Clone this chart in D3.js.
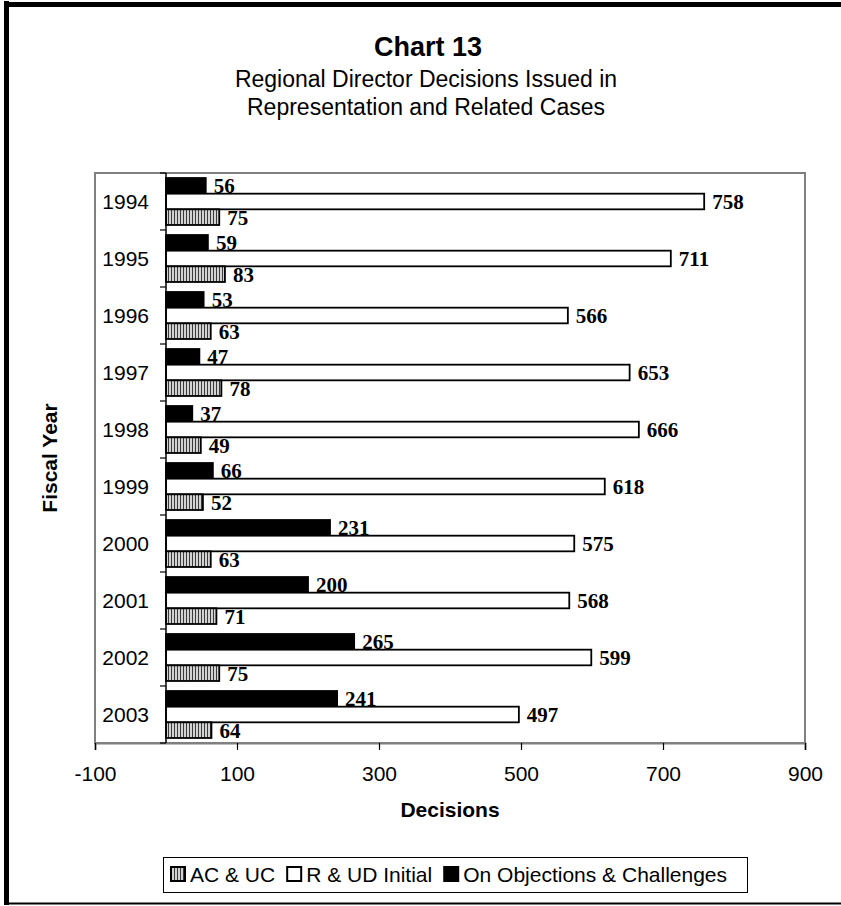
<!DOCTYPE html>
<html>
<head>
<meta charset="utf-8">
<script src="https://cdn.jsdelivr.net/npm/d3@7"></script>
<style>
  body { margin: 0; background: #fff; }
  svg { display: block; }
  .sans { font-family: Arial, "Liberation Sans", sans-serif; }
  .lbl { font-family: "Times New Roman", "Liberation Serif", serif; font-weight: bold; font-size: 21px; }
</style>
</head>
<body>
<script>
let svgWidth = 841
let svgHeight = 906

// data
let years = ["1994", "1995", "1996", "1997", "1998", "1999", "2000", "2001", "2002", "2003"]
let objections = [56, 59, 53, 47, 37, 66, 231, 200, 265, 241]
let initial = [758, 711, 566, 653, 666, 618, 575, 568, 599, 497]
let acuc = [75, 83, 63, 78, 49, 52, 63, 71, 75, 64]
let xTicks = [-100, 100, 300, 500, 700, 900]
let seriesNames = ["AC & UC", "R & UD Initial", "On Objections & Challenges"]

let plot = { left: 95, right: 805, top: 173, bottom: 743 }

let svg = d3.select("body")
    .append("svg")
    .attr("width", svgWidth)
    .attr("height", svgHeight)

// hatch pattern for AC & UC
let defs = svg.append("defs")
let pat = defs.append("pattern")
    .attr("id", "hatch")
    .attr("patternUnits", "userSpaceOnUse")
    .attr("width", 3)
    .attr("height", 4)
pat.append("rect").attr("width", 3).attr("height", 4).attr("fill", "#d2d2d2")
pat.append("rect").attr("width", 1).attr("height", 4).attr("fill", "#3a3a3a")

let fills = { "AC & UC": "url(#hatch)", "R & UD Initial": "#fff", "On Objections & Challenges": "#000" }

// outer frame
svg.append("line").attr("x1", 6.5).attr("x2", 6.5).attr("y1", 1).attr("y2", 905)
    .attr("stroke", "#000").attr("stroke-width", 5)
svg.append("line").attr("x1", 4).attr("x2", svgWidth).attr("y1", 4.5).attr("y2", 4.5)
    .attr("stroke", "#000").attr("stroke-width", 5)
svg.append("line").attr("x1", 4).attr("x2", svgWidth).attr("y1", 903.5).attr("y2", 903.5)
    .attr("stroke", "#000").attr("stroke-width", 2)

// titles
svg.append("text").attr("class", "sans")
    .attr("x", 428).attr("y", 56)
    .attr("text-anchor", "middle")
    .attr("font-size", 27).attr("font-weight", "bold")
    .text("Chart 13")
svg.append("text").attr("class", "sans")
    .attr("x", 426).attr("y", 87)
    .attr("text-anchor", "middle")
    .attr("font-size", 23)
    .text("Regional Director Decisions Issued in")
svg.append("text").attr("class", "sans")
    .attr("x", 426).attr("y", 115)
    .attr("text-anchor", "middle")
    .attr("font-size", 23)
    .text("Representation and Related Cases")

// scales
let xScale = d3.scaleLinear()
    .domain([-100, 900])
    .range([plot.left, plot.right])

let yScale = d3.scaleBand()
    .domain(years)
    .range([plot.top, plot.bottom])
    .padding(0)

// inside each year: objections on top, initial, then AC & UC
let inner = d3.scaleBand()
    .domain(["On Objections & Challenges", "R & UD Initial", "AC & UC"])
    .range([0, yScale.bandwidth()])
    .paddingInner(0)
    .paddingOuter(0.32)

// plot area border
svg.append("rect")
    .attr("x", plot.left).attr("y", plot.top)
    .attr("width", plot.right - plot.left).attr("height", plot.bottom - plot.top)
    .attr("fill", "#fff")
    .attr("stroke", "#808080").attr("stroke-width", 2)

let rows = years.map(function (y, i) {
    return [
        { year: y, key: "On Objections & Challenges", value: objections[i] },
        { year: y, key: "R & UD Initial", value: initial[i] },
        { year: y, key: "AC & UC", value: acuc[i] }
    ]
}).flat()

svg.append("g")
    .selectAll("rect")
    .data(rows)
    .enter()
    .append("rect")
    .attr("x", xScale(0))
    .attr("y", function (d) { return yScale(d.year) + inner(d.key) })
    .attr("width", function (d) { return xScale(d.value) - xScale(0) })
    .attr("height", inner.bandwidth())
    .attr("fill", function (d) { return fills[d.key] })
    .attr("stroke", "#000")
    .attr("stroke-width", 1.8)

// data labels
svg.append("g")
    .selectAll("text")
    .data(rows)
    .enter()
    .append("text")
    .attr("class", "lbl")
    .attr("x", function (d) { return xScale(d.value) + 8 })
    .attr("y", function (d) { return yScale(d.year) + inner(d.key) + inner.bandwidth() / 2 })
    .attr("dy", "0.36em")
    .text(function (d) { return d.value })

// x axis
let xAxis = d3.axisBottom(xScale)
    .tickValues(xTicks)
    .tickSize(7)
    .tickPadding(16)
    .tickFormat(function (d) { return String(d) })

let gx = svg.append("g")
    .attr("transform", "translate(0," + plot.bottom + ")")
    .call(xAxis)
gx.select(".domain").attr("stroke", "#808080").attr("stroke-width", 2)
gx.selectAll(".tick line").attr("stroke", "#000").attr("stroke-width", 1.2)
gx.selectAll(".tick text")
    .attr("font-family", "Arial, 'Liberation Sans', sans-serif")
    .attr("font-size", 21)
    .attr("fill", "#000")

// y axis at zero, ticks between categories
let gy = svg.append("g")
    .attr("transform", "translate(" + xScale(0) + ",0)")
gy.append("line")
    .attr("x1", 0).attr("x2", 0)
    .attr("y1", plot.top).attr("y2", plot.bottom)
    .attr("stroke", "#000").attr("stroke-width", 1.5)
gy.selectAll(".yt")
    .data(years.concat(["end"]))
    .enter()
    .append("line")
    .attr("x1", -6).attr("x2", 0)
    .attr("y1", function (d, i) { return plot.top + i * yScale.step() })
    .attr("y2", function (d, i) { return plot.top + i * yScale.step() })
    .attr("stroke", "#000").attr("stroke-width", 1.2)

svg.append("g")
    .selectAll("text")
    .data(years)
    .enter()
    .append("text")
    .attr("class", "sans")
    .attr("x", 149)
    .attr("y", function (d) { return yScale(d) + yScale.bandwidth() / 2 })
    .attr("dy", "0.36em")
    .attr("text-anchor", "end")
    .attr("font-size", 21)
    .text(function (d) { return d })

// axis titles
svg.append("text").attr("class", "sans")
    .attr("x", (plot.left + plot.right) / 2).attr("y", 817)
    .attr("text-anchor", "middle")
    .attr("font-size", 21).attr("font-weight", "bold")
    .text("Decisions")

svg.append("text").attr("class", "sans")
    .attr("transform", "translate(57," + ((plot.top + plot.bottom) / 2) + ") rotate(-90)")
    .attr("text-anchor", "middle")
    .attr("font-size", 21).attr("font-weight", "bold")
    .text("Fiscal Year")

// legend
let legend = svg.append("g")
svg.append("rect")
    .attr("x", 163.5).attr("y", 857.5)
    .attr("width", 584).attr("height", 35)
    .attr("fill", "none")
    .attr("stroke", "#000").attr("stroke-width", 1)
let lx = 171
seriesNames.forEach(function (name) {
    legend.append("rect")
        .attr("x", lx).attr("y", 867)
        .attr("width", 14).attr("height", 14)
        .attr("fill", fills[name])
        .attr("stroke", "#000").attr("stroke-width", 2)
    let t = legend.append("text").attr("class", "sans")
        .attr("x", lx + 19).attr("y", 882)
        .attr("font-size", 21)
        .text(name)
    lx += 19 + t.node().getComputedTextLength() + 12
})
</script>
</body>
</html>
